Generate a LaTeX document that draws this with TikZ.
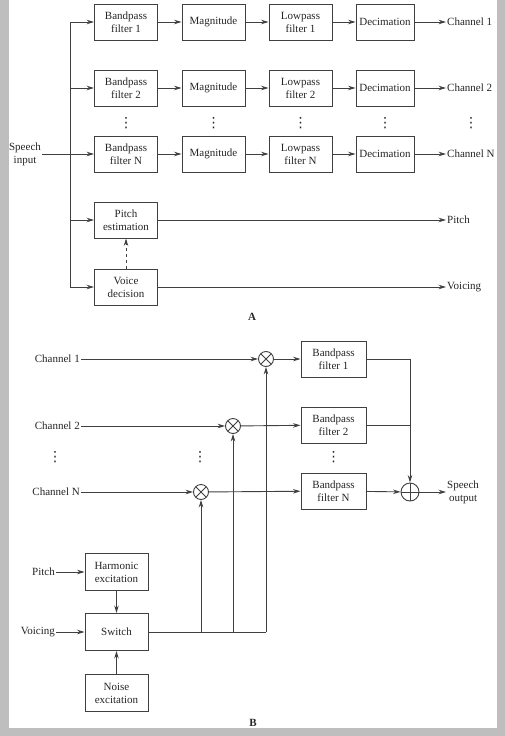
\documentclass[tikz,border=0pt]{standalone}
\usepackage{fontspec}
\setmainfont{Liberation Serif}
\newfontfamily\djfont{DejaVu Sans}
\usetikzlibrary{arrows.meta}
\definecolor{bggray}{HTML}{BEBEBE}
\definecolor{ln}{HTML}{404040}
\begin{document}
\begin{tikzpicture}[x=1pt,y=-1pt,
  every node/.style={font=\fontsize{11}{13}\selectfont, text=black!85},
  blk/.style={draw=ln, line width=0.95pt, minimum width=63pt, minimum height=36pt, align=center, inner sep=1pt},
  lbl/.style={align=center, inner sep=1pt},
  wire/.style={draw=ln, line width=0.9pt},
  arr/.style={wire, -{Stealth[length=7.5pt,width=4.5pt]}},
  mult/.style={circle, draw=ln, line width=0.9pt, minimum size=15pt, inner sep=0pt,
    path picture={\draw[ln, line width=0.8pt] (path picture bounding box.north west) -- (path picture bounding box.south east)
      (path picture bounding box.north east) -- (path picture bounding box.south west);}},
  summ/.style={circle, draw=ln, line width=0.9pt, minimum size=18pt, inner sep=0pt,
    path picture={\draw[ln, line width=0.8pt] (path picture bounding box.north) -- (path picture bounding box.south)
      (path picture bounding box.west) -- (path picture bounding box.east);}},
  dts/.style={inner sep=0pt, font=\djfont\fontsize{14}{16}\selectfont}
]
% background
\fill[bggray] (0,0) rectangle (505,736);
\fill[white] (9,0) rectangle (497,728);
\useasboundingbox (0,0) rectangle (505,736);

% ---------------- Part A ----------------
\node[blk] (bp1) at (126,22) {Bandpass\\filter 1};
\node[blk] (mg1) at (213.5,22) {Magnitude};
\node[blk] (lp1) at (300.5,22) {Lowpass\\filter 1};
\node[blk, minimum width=58pt] (dc1) at (385,22) {Decimation};
\node[lbl, anchor=west] (ch1) at (446,22) {Channel 1};

\node[blk] (bp2) at (126,88) {Bandpass\\filter 2};
\node[blk] (mg2) at (213.5,88) {Magnitude};
\node[blk] (lp2) at (300.5,88) {Lowpass\\filter 2};
\node[blk, minimum width=58pt] (dc2) at (385,88) {Decimation};
\node[lbl, anchor=west] (ch2) at (446,88) {Channel 2};

\node[blk] (bpN) at (126,154) {Bandpass\\filter N};
\node[blk] (mgN) at (213.5,154) {Magnitude};
\node[blk] (lpN) at (300.5,154) {Lowpass\\filter N};
\node[blk, minimum width=58pt] (dcN) at (385,154) {Decimation};
\node[lbl, anchor=west] (chN) at (446,154) {Channel N};

\node[dts] (d1) at (126,123) {⋮};
\node[dts] (d2) at (213.5,123) {⋮};
\node[dts] (d3) at (300.5,123) {⋮};
\node[dts] (d4) at (385,123) {⋮};
\node[dts] (d5) at (471,123) {⋮};

\node[lbl] (si) at (25,154) {Speech\\input};

\node[blk] (pe) at (126,220) {Pitch\\estimation};
\node[blk] (vd) at (126,287) {Voice\\decision};
\node[lbl, anchor=west] (po) at (446,220) {Pitch};
\node[lbl, anchor=west] (vo) at (446,287) {Voicing};

\coordinate (bt) at (70,22);
\coordinate (b2) at (70,88);
\coordinate (b3) at (70,220);
\coordinate (bb) at (70,287);

\draw[wire] (bt) -- (bb);
\draw[arr] (si) -- (bpN);
\draw[arr] (bt) -- (bp1);
\draw[arr] (b2) -- (bp2);
\draw[arr] (b3) -- (pe);
\draw[arr] (bb) -- (vd);

\foreach \r in {1,2,N}{
  \draw[arr] (bp\r) -- (mg\r);
  \draw[arr] (mg\r) -- (lp\r);
  \draw[arr] (lp\r) -- (dc\r);
  \draw[arr] (dc\r) -- (ch\r);
}
\draw[arr] (pe) -- (po);
\draw[arr] (vd) -- (vo);
\draw[arr, dashed] (vd) -- (pe);

\node[font=\fontsize{11}{13}\selectfont\bfseries] (la) at (252,317) {A};

% ---------------- Part B ----------------
\node[lbl, anchor=east] (c1) at (81,359) {Channel 1};
\node[lbl, anchor=east] (c2) at (81,426) {Channel 2};
\node[lbl, anchor=east] (cN) at (81,492) {Channel N};

\node[mult] (m1) at (266,359) {};
\node[mult] (m2) at (233,426) {};
\node[mult] (mN) at (201,492) {};

\node[blk, minimum width=65pt] (f1) at (333.5,359) {Bandpass\\filter 1};
\node[blk, minimum width=65pt] (f2) at (333.5,425) {Bandpass\\filter 2};
\node[blk, minimum width=65pt] (fN) at (333.5,491) {Bandpass\\filter N};

\node[summ] (s) at (410,492) {};
\node[lbl, anchor=west] (so) at (446,492) {Speech\\output};

\node[dts] (e1) at (55,457) {⋮};
\node[dts] (e2) at (200,457) {⋮};
\node[dts] (e3) at (333.5,457) {⋮};

\draw[arr] (c1) -- (m1);
\draw[arr] (c2) -- (m2);
\draw[arr] (cN) -- (mN);
\draw[arr] (m1) -- (f1);
\draw[arr] (m2) -- (f2);
\draw[arr] (mN) -- (fN);
\draw[arr] (f1.east) -| (s.north);
\draw[wire] (f2.east) -- (f2.east -| s);
\draw[arr] (fN) -- (s);
\draw[arr] (s) -- (so);

\node[blk, minimum height=37pt] (he) at (116.5,572) {Harmonic\\excitation};
\node[blk, minimum height=37pt] (sw) at (116.5,632) {Switch};
\node[blk, minimum height=37pt] (ne) at (116.5,693) {Noise\\excitation};
\node[lbl, anchor=east] (pi) at (56,572) {Pitch};
\node[lbl, anchor=east] (vi) at (56,632) {Voicing};

\draw[arr] (pi) -- (he);
\draw[arr] (vi) -- (sw);
\draw[arr] (he) -- (sw);
\draw[arr] (ne) -- (sw);
\draw[wire] (sw.east) -- (sw.east -| m1);
\draw[arr] (sw.east -| mN) -- (mN);
\draw[arr] (sw.east -| m2) -- (m2);
\draw[arr] (sw.east -| m1) -- (m1);

\node[font=\fontsize{11}{13}\selectfont\bfseries] (lb) at (253,723) {B};
\end{tikzpicture}
\end{document}
